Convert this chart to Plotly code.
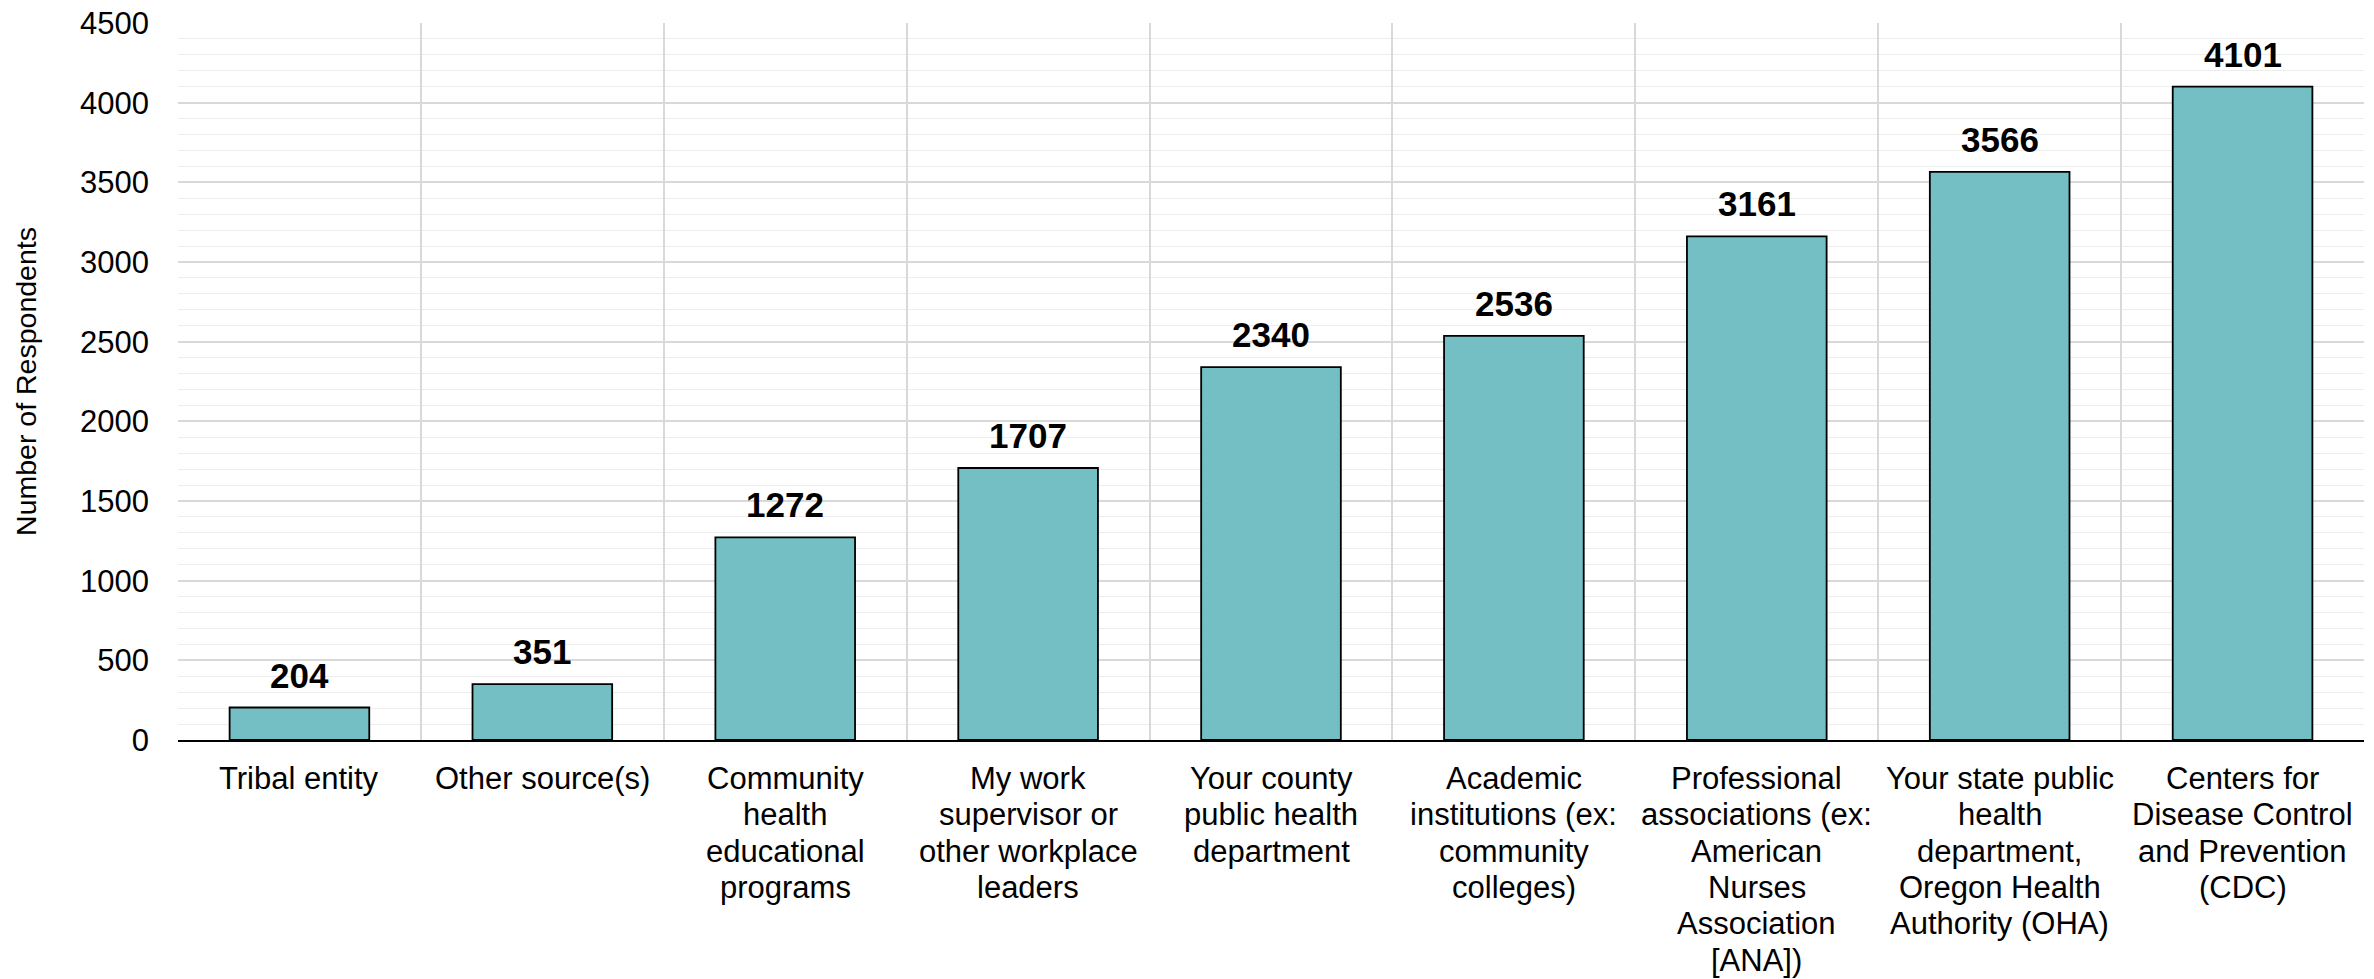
import plotly.graph_objects as go

categories = [
    "Tribal entity",
    "Other source(s)",
    "Community<br>health<br>educational<br>programs",
    "My work<br>supervisor or<br>other workplace<br>leaders",
    "Your county<br>public health<br>department",
    "Academic<br>institutions (ex:<br>community<br>colleges)",
    "Professional<br>associations (ex:<br>American<br>Nurses<br>Association<br>[ANA])",
    "Your state public<br>health<br>department,<br>Oregon Health<br>Authority (OHA)",
    "Centers for<br>Disease Control<br>and Prevention<br>(CDC)",
]
respondents = [204, 351, 1272, 1707, 2340, 2536, 3161, 3566, 4101]
y_title = "Number of Respondents"

FONT = "Liberation Sans, Arial, sans-serif"
BAR_COLOR = "#73BFC4"

fig = go.Figure()
fig.add_trace(go.Bar(
    x=categories,
    y=respondents,
    width=0.575,
    marker=dict(color=BAR_COLOR, line=dict(color="black", width=1.8)),
    hoverinfo="x+y",
))

annotations = []
# value labels above bars
for c, v in zip(categories, respondents):
    annotations.append(dict(
        x=c, y=v, xref="x", yref="y", text=f"<b>{v}</b>",
        showarrow=False, yanchor="bottom", yshift=11,
        font=dict(family=FONT, size=35, color="black"),
    ))
# category labels, line by line (tight line spacing)
LINE_GAP = 36.3
FIRST = 38.5
for c in categories:
    for i, line in enumerate(c.split("<br>")):
        annotations.append(dict(
            x=c, y=0, xref="x", yref="paper", text=line,
            showarrow=False, yanchor="middle", xanchor="center",
            yshift=-(FIRST + LINE_GAP * i),
            font=dict(family=FONT, size=31, color="black"),
        ))

# page body has an 8px margin, so the figure is shrunk by that much
fig.update_layout(
    width=2366, height=971,
    margin=dict(l=170, r=10, t=15, b=239, autoexpand=False),
    paper_bgcolor="white", plot_bgcolor="white",
    showlegend=False,
    font=dict(family=FONT, color="black"),
    annotations=annotations,
    bargap=0.425,
)
fig.update_xaxes(
    type="category",
    automargin=False,
    showticklabels=False,
    tickson="boundaries",
    showgrid=True, gridcolor="#D9D9D9", gridwidth=1.5,
    ticks="",
    showline=True, linecolor="black", linewidth=2,
    zeroline=False,
)
fig.update_yaxes(
    automargin=False,
    range=[0, 4500],
    dtick=500, tick0=0,
    showgrid=True, gridcolor="#D9D9D9", gridwidth=1.5,
    minor=dict(dtick=100, showgrid=True, gridcolor="#EDEDED", gridwidth=1.3),
    zeroline=False,
    showline=False,
    ticks="",
    ticklabelstandoff=28,
    ticklabeloverflow="allow",
    tickfont=dict(family=FONT, size=31, color="black"),
    title=dict(text=y_title, font=dict(family=FONT, size=28.5, color="black"), standoff=35),
)

fig.write_html("out.html")
